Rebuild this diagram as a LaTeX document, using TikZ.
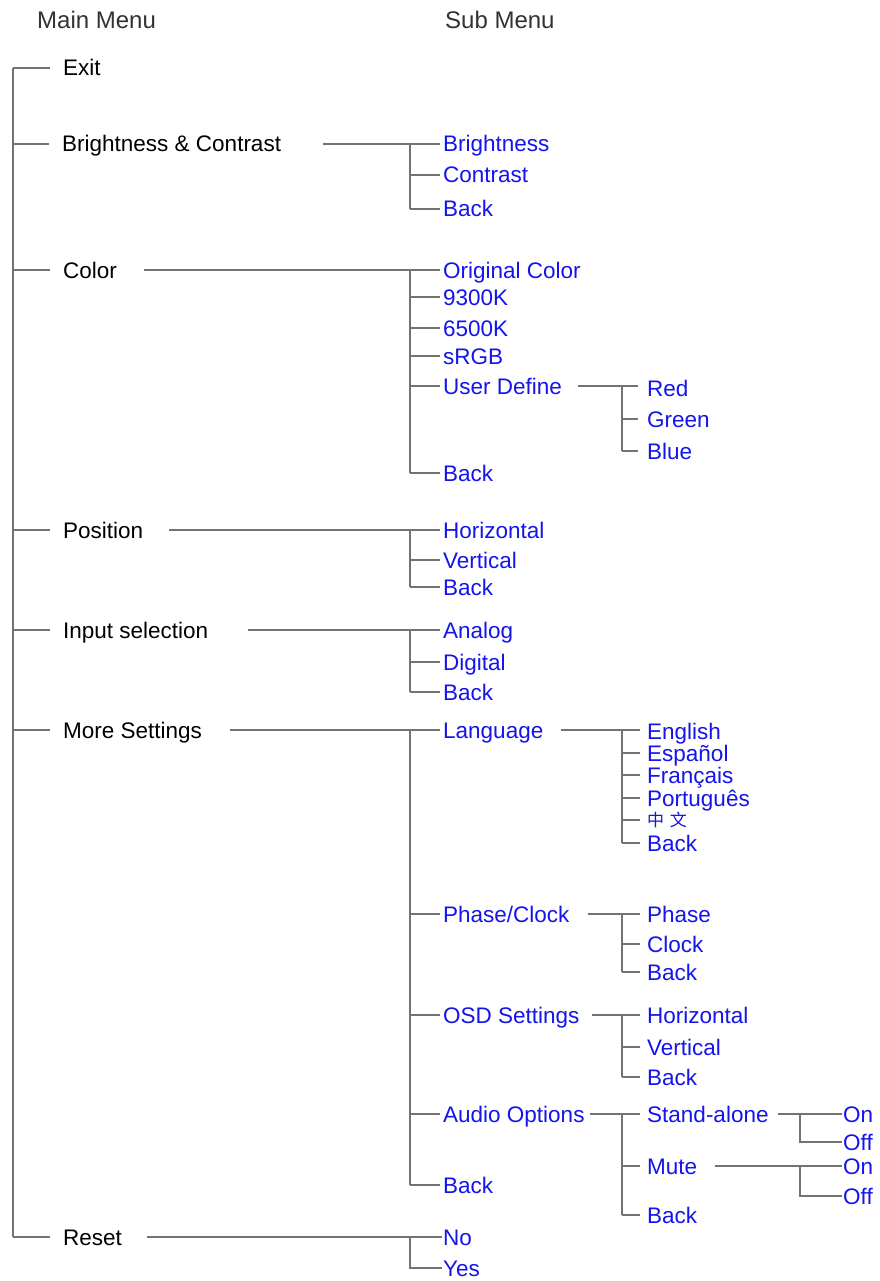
\documentclass[tikz,border=0pt]{standalone}
\usepackage{fontspec}
\setmainfont{Liberation Sans}
\newfontfamily\cjk{Noto Sans CJK SC}
\definecolor{lngray}{RGB}{115,115,115}
\definecolor{subblue}{RGB}{20,20,235}
\definecolor{hdgray}{RGB}{50,50,50}
\begin{document}
\begin{tikzpicture}[x=1pt,y=-1pt,
  ln/.style={draw=lngray,line width=1.6pt},
  base/.style={anchor=west,inner sep=0pt,text height=16pt,text depth=0pt,font=\fontsize{22.5}{26}\selectfont},
  mm/.style={base,text=black},
  sm/.style={base,text=subblue},
  hd/.style={anchor=west,inner sep=0pt,text height=17pt,text depth=0pt,text=hdgray,font=\fontsize{24}{28}\selectfont}]
\path[use as bounding box,fill=white] (0,0) rectangle (879,1281);
% headers
\node[hd] (hmain) at (37,20) {Main Menu};
\node[hd] (hsub) at (445,20) {Sub Menu};
% trunk x positions
\coordinate (mt) at (13,0);
\coordinate (st) at (410,0);
\coordinate (lt) at (622,0);
\coordinate (ft) at (800,0);
% main items
\node[mm] (exit) at (63,68) {Exit};
\node[mm] (bc) at (62,144) {Brightness \& Contrast};
\node[mm] (col) at (63,270) {Color};
\node[mm] (pos) at (63,530) {Position};
\node[mm] (inp) at (63,630) {Input selection};
\node[mm] (more) at (63,730) {More Settings};
\node[mm] (reset) at (63,1237) {Reset};
\draw[ln] (mt |- exit.west) -- (mt |- reset.west);
\foreach \n in {exit,bc,col,pos,inp,more,reset}
  \draw[ln] (mt |- \n.west) -- ([xshift=-13pt]\n.west);
% Brightness & Contrast
\node[sm] (bri) at (443,144) {Brightness};
\node[sm] (con) at (443,175) {Contrast};
\node[sm] (bcb) at (443,209) {Back};
\draw[ln] ([xshift=42pt]bc.east) -- ([xshift=-3pt]bri.west);
\draw[ln] (st |- bri.west) -- (st |- bcb.west);
\foreach \n in {con,bcb} \draw[ln] (st |- \n.west) -- ([xshift=-3pt]\n.west);
% Color
\node[sm] (orig) at (443,270) {Original Color};
\node[sm] (k93) at (443,297) {9300K};
\node[sm] (k65) at (443,328) {6500K};
\node[sm] (srgb) at (443,356) {sRGB};
\node[sm] (ud) at (443,386) {User Define};
\node[sm] (colb) at (443,473) {Back};
\draw[ln] ([xshift=27pt]col.east) -- ([xshift=-3pt]orig.west);
\draw[ln] (st |- orig.west) -- (st |- colb.west);
\foreach \n in {k93,k65,srgb,ud,colb} \draw[ln] (st |- \n.west) -- ([xshift=-3pt]\n.west);
\node[sm] (red) at (647,388) {Red};
\node[sm] (green) at (647,419) {Green};
\node[sm] (blue) at (647,451) {Blue};
\draw[ln] ([xshift=16pt]ud.east) -- (ud.east -| lt) -- ([xshift=-9pt]ud.east -| red.west);
\draw[ln] (ud.east -| lt) -- (lt |- blue.west);
\foreach \n in {green,blue} \draw[ln] (lt |- \n.west) -- ([xshift=-9pt]\n.west);
% Position
\node[sm] (ph) at (443,530) {Horizontal};
\node[sm] (pv) at (443,560) {Vertical};
\node[sm] (pb) at (443,587) {Back};
\draw[ln] ([xshift=26pt]pos.east) -- ([xshift=-3pt]ph.west);
\draw[ln] (st |- ph.west) -- (st |- pb.west);
\foreach \n in {pv,pb} \draw[ln] (st |- \n.west) -- ([xshift=-3pt]\n.west);
% Input selection
\node[sm] (ana) at (443,630) {Analog};
\node[sm] (dig) at (443,662) {Digital};
\node[sm] (inb) at (443,692) {Back};
\draw[ln] ([xshift=39pt]inp.east) -- ([xshift=-3pt]ana.west);
\draw[ln] (st |- ana.west) -- (st |- inb.west);
\foreach \n in {dig,inb} \draw[ln] (st |- \n.west) -- ([xshift=-3pt]\n.west);
% More Settings
\node[sm] (lang) at (443,730) {Language};
\node[sm] (pc) at (443,914) {Phase/Clock};
\node[sm] (osd) at (443,1015) {OSD Settings};
\node[sm] (aud) at (443,1114) {Audio Options};
\node[sm] (mob) at (443,1185) {Back};
\draw[ln] ([xshift=28pt]more.east) -- ([xshift=-3pt]lang.west);
\draw[ln] (st |- lang.west) -- (st |- mob.west);
\foreach \n in {pc,osd,aud,mob} \draw[ln] (st |- \n.west) -- ([xshift=-3pt]\n.west);
% Language
\node[sm] (en) at (647,731) {English};
\node[sm] (es) at (647,753) {Español};
\node[sm] (fr) at (647,775) {Français};
\node[sm] (pt) at (647,798) {Português};
\node[anchor=west,inner sep=0pt,text height=13pt,text depth=0pt,text=subblue,font=\cjk\fontsize{17}{20}\selectfont] (zh) at (647,820) {中\,\,文};
\node[sm] (lb) at (647,843) {Back};
\draw[ln] ([xshift=17pt]lang.east) -- (lang.east -| lt) -- ([xshift=-7pt]lang.east -| en.west);
\draw[ln] (lang.east -| lt) -- (lt |- lb.west);
\foreach \n in {es,fr,pt,zh,lb} \draw[ln] (lt |- \n.west) -- ([xshift=-7pt]\n.west -| en.west);
% Phase/Clock
\node[sm] (pha) at (647,914) {Phase};
\node[sm] (clk) at (647,944) {Clock};
\node[sm] (pcb) at (647,972) {Back};
\draw[ln] ([xshift=18pt]pc.east) -- (pc.east -| lt) -- ([xshift=-7pt]pha.west);
\draw[ln] (pc.east -| lt) -- (lt |- pcb.west);
\foreach \n in {clk,pcb} \draw[ln] (lt |- \n.west) -- ([xshift=-7pt]\n.west);
% OSD Settings
\node[sm] (oh) at (647,1015) {Horizontal};
\node[sm] (ov) at (647,1047) {Vertical};
\node[sm] (ob) at (647,1077) {Back};
\draw[ln] ([xshift=12pt]osd.east) -- (osd.east -| lt) -- ([xshift=-7pt]oh.west);
\draw[ln] (osd.east -| lt) -- (lt |- ob.west);
\foreach \n in {ov,ob} \draw[ln] (lt |- \n.west) -- ([xshift=-7pt]\n.west);
% Audio Options
\node[sm] (sa) at (647,1114) {Stand-alone};
\node[sm] (mu) at (647,1166) {Mute};
\node[sm] (ab) at (647,1215) {Back};
\draw[ln] ([xshift=5pt]aud.east) -- (aud.east -| lt) -- ([xshift=-7pt]sa.west);
\draw[ln] (aud.east -| lt) -- (lt |- ab.west);
\foreach \n in {mu,ab} \draw[ln] (lt |- \n.west) -- ([xshift=-7pt]\n.west);
\node[sm] (saon) at (843,1114) {On};
\node[sm] (saoff) at (843,1142) {Off};
\node[sm] (muon) at (843,1166) {On};
\node[sm] (muoff) at (843,1196) {Off};
\draw[ln] ([xshift=9pt]sa.east) -- ([xshift=-1pt]saon.west);
\draw[ln] (ft |- saon.west) -- (ft |- saoff.west) -- ([xshift=-1pt]saoff.west);
\draw[ln] ([xshift=18pt]mu.east) -- ([xshift=-1pt]muon.west);
\draw[ln] (ft |- muon.west) -- (ft |- muoff.west) -- ([xshift=-1pt]muoff.west);
% Reset
\node[sm] (no) at (443,1237) {No};
\node[sm] (yes) at (443,1268) {Yes};
\draw[ln] ([xshift=25pt]reset.east) -- ([xshift=-1pt]no.west);
\draw[ln] (st |- no.west) -- (st |- yes.west) -- ([xshift=-1pt]yes.west);
\end{tikzpicture}
\end{document}
